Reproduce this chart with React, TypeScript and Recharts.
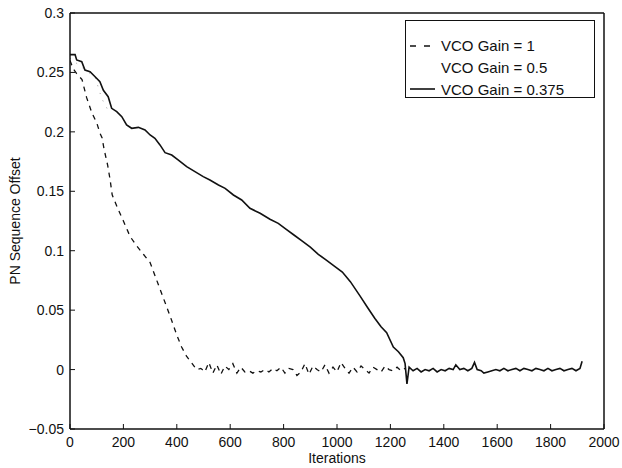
import { LineChart, Line, XAxis, YAxis, Legend, Label } from 'recharts';

const FONT = '"Liberation Sans", Arial, Helvetica, sans-serif';
const INK = '#111';

const ITER_TICKS = [0, 200, 400, 600, 800, 1000, 1200, 1400, 1600, 1800, 2000];
const OFFSET_TICKS = [-0.05, 0, 0.05, 0.1, 0.15, 0.2, 0.25, 0.3];

// VCO gain = 1: fast pull-in, then jitter around zero
const GAIN1_ITER = [
  0, 12, 25, 45, 62, 82, 101, 112, 120, 128, 141, 150, 158, 178, 200, 225, 250, 275, 300, 325, 350, 375,
  400, 418, 437, 456, 474, 490, 505, 520, 535, 550, 565, 580, 595, 610, 625, 640, 655, 670, 685, 700, 715,
  730, 745, 760, 775, 790, 805, 820, 835, 850, 865, 880, 895, 910, 925, 940, 955, 970, 985, 1000, 1015,
  1030, 1045, 1060, 1075, 1090, 1105, 1120, 1135, 1150, 1165, 1180, 1195, 1210, 1225, 1240, 1255,
];
const GAIN1_OFFSET = [
  0.26, 0.253, 0.249, 0.244, 0.229, 0.216, 0.207, 0.199, 0.195, 0.185, 0.172, 0.16, 0.147, 0.136, 0.125,
  0.112, 0.104, 0.097, 0.09, 0.075, 0.06, 0.045, 0.029, 0.019, 0.011, 0.0055, 0, 0.001, -0.002, 0.006,
  -0.003, 0.004, -0.004, 0.003, 0, 0.005, -0.003, 0.002, -0.002, -0.001, -0.003, -0.001, -0.002, 0, -0.002,
  0.001, -0.001, 0.002, -0.003, 0.001, 0, -0.005, -0.002, 0.005, -0.004, 0.003, 0, -0.002, 0.004, -0.003,
  0.002, -0.002, 0.006, 0.001, -0.003, 0.002, -0.002, 0.003, 0, -0.003, 0.002, 0, -0.002, 0.003, 0, -0.001,
  0.002, -0.001, 0.001,
];

// VCO gain = 0.5: only the first stretch survives as faint dots
const GAIN05_ITER = [0, 40, 94, 119, 150];
const GAIN05_OFFSET = [0.262, 0.255, 0.246, 0.228, 0.215];

// VCO gain = 0.375: slow, steady descent, locks near 1250
const GAIN0375_ITER = [
  0, 19, 25, 44, 56, 75, 94, 112, 125, 143, 156, 175, 194, 212, 231, 256, 281, 300, 318, 337, 356, 381,
  406, 437, 468, 499, 524, 556, 581, 612, 643, 674, 712, 749, 780, 810, 840, 870, 900, 930, 960, 990, 1020,
  1050, 1086, 1115, 1142, 1165, 1186, 1211, 1230, 1248, 1255, 1262, 1270, 1285, 1300, 1315, 1330, 1345,
  1360, 1375, 1390, 1405, 1420, 1435, 1445, 1460, 1475, 1490, 1505, 1515, 1525, 1540, 1550, 1565, 1580,
  1595, 1610, 1625, 1640, 1655, 1670, 1685, 1700, 1715, 1730, 1745, 1760, 1775, 1790, 1805, 1820, 1835,
  1850, 1865, 1880, 1895, 1910, 1918,
];
const GAIN0375_OFFSET = [
  0.265, 0.265, 0.2605, 0.259, 0.252, 0.2506, 0.2464, 0.2422, 0.235, 0.2296, 0.2198, 0.217, 0.2128,
  0.2058, 0.203, 0.2038, 0.2016, 0.1974, 0.1946, 0.189, 0.1825, 0.1805, 0.1763, 0.1707, 0.1665, 0.1623,
  0.1595, 0.1553, 0.1525, 0.1469, 0.1427, 0.1357, 0.1315, 0.1265, 0.123, 0.118, 0.113, 0.108, 0.103, 0.097,
  0.092, 0.087, 0.082, 0.074, 0.062, 0.052, 0.043, 0.036, 0.031, 0.019, 0.015, 0.01, 0.005, -0.012, 0.002,
  -0.001, 0.001, -0.002, 0, -0.001, 0.001, -0.002, 0, -0.001, 0.001, 0, 0.004, 0, 0.001, -0.001, 0.001,
  0.006, 0, -0.001, -0.003, -0.002, -0.001, 0, -0.001, 0.001, -0.001, 0, 0.001, -0.001, 0.001, 0, -0.001,
  0.001, 0, -0.001, 0.001, -0.001, 0, 0.001, -0.001, 0, 0.001, -0.001, 0.001, 0.007,
];

const toPoints = (iters: number[], offsets: number[]) => iters.map((it, i) => ({ it, off: offsets[i] }));

const SERIES = [
  { name: 'VCO Gain = 1', data: toPoints(GAIN1_ITER, GAIN1_OFFSET), color: INK, width: 1.3, dash: '5 5', key: '6 8' },
  { name: 'VCO Gain = 0.5', data: toPoints(GAIN05_ITER, GAIN05_OFFSET), color: '#9a9a9a', width: 1, dash: '1 7', key: '' },
  { name: 'VCO Gain = 0.375', data: toPoints(GAIN0375_ITER, GAIN0375_OFFSET), color: INK, width: 1.6, dash: undefined, key: undefined },
];

const fmtOffset = (v: number) => {
  const s = String(Number(v.toFixed(2)));
  return s.startsWith('-') ? '\u2212' + s.slice(1) : s;
};

function LegendBox() {
  return (
    <div
      style={{
        width: 190,
        height: 78,
        boxSizing: 'border-box',
        border: `1.5px solid ${INK}`,
        background: '#fff',
        paddingTop: 14,
        fontFamily: FONT,
        fontSize: 15,
        color: INK,
      }}
    >
      {SERIES.map((s) => (
        <div key={s.name} style={{ display: 'flex', alignItems: 'center', height: 21.7 }}>
          <svg width={35} height={10} style={{ flex: 'none' }}>
            {s.key !== '' && (
              <line x1={4} x2={29} y1={5} y2={5} stroke={s.color} strokeWidth={s.width} strokeDasharray={s.key} />
            )}
          </svg>
          <span style={{ whiteSpace: 'nowrap' }}>{s.name}</span>
        </div>
      ))}
    </div>
  );
}

const axisLine = { stroke: INK, strokeWidth: 1.5 };
const tickLine = { stroke: INK, strokeWidth: 1 };
const tickText = { fill: INK, fontSize: 14, fontFamily: FONT };

export default function App() {
  return (
    <div style={{ position: 'absolute', left: 0, top: 0, background: '#fff' }}>
      <LineChart width={622} height={468} margin={{ top: 12, right: 17, bottom: 0, left: 8 }}>
        <XAxis
          dataKey="it"
          type="number"
          domain={[0, 2000]}
          allowDataOverflow
          ticks={ITER_TICKS}
          interval={0}
          height={39}
          tickSize={-5}
          tickMargin={13}
          axisLine={axisLine}
          tickLine={tickLine}
          tick={tickText}
        >
          <Label
            value="Iterations"
            position="insideBottom"
            offset={5}
            style={{ fill: INK, fontSize: 14, fontFamily: FONT }}
          />
        </XAxis>
        <XAxis
          xAxisId="top"
          orientation="top"
          type="number"
          domain={[0, 2000]}
          allowDataOverflow
          ticks={ITER_TICKS}
          interval={0}
          height={1}
          tickSize={-5}
          axisLine={axisLine}
          tickLine={tickLine}
          tick={false}
        />
        <YAxis
          type="number"
          domain={[-0.05, 0.3]}
          allowDataOverflow
          ticks={OFFSET_TICKS}
          interval={0}
          width={62}
          tickSize={-5}
          tickMargin={11}
          tickFormatter={fmtOffset}
          axisLine={axisLine}
          tickLine={tickLine}
          tick={tickText}
        >
          <Label
            content={(p: any) => {
              const vb = p.viewBox;
              const cx = vb.x + 7;
              const cy = vb.y + vb.height / 2;
              return (
                <text
                  x={cx}
                  y={cy}
                  transform={`rotate(-90 ${cx} ${cy})`}
                  textAnchor="middle"
                  dominantBaseline="central"
                  fill={INK}
                  fontSize={14}
                  fontFamily={FONT}
                >
                  PN Sequence Offset
                </text>
              );
            }}
          />
        </YAxis>
        <YAxis
          yAxisId="right"
          orientation="right"
          type="number"
          domain={[-0.05, 0.3]}
          allowDataOverflow
          ticks={OFFSET_TICKS}
          interval={0}
          width={1}
          tickSize={-5}
          axisLine={axisLine}
          tickLine={tickLine}
          tick={false}
        />
        <Legend
          layout="horizontal"
          verticalAlign="middle"
          align="center"
          content={() => <LegendBox />}
          wrapperStyle={{ position: 'absolute', left: 405, top: 20, width: 190, height: 78 }}
        />
        {SERIES.map((s) => (
          <Line
            key={s.name}
            name={s.name}
            data={s.data}
            dataKey="off"
            type="linear"
            stroke={s.color}
            strokeWidth={s.width}
            strokeDasharray={s.dash}
            dot={false}
            activeDot={false}
            isAnimationActive={false}
          />
        ))}
      </LineChart>
    </div>
  );
}
